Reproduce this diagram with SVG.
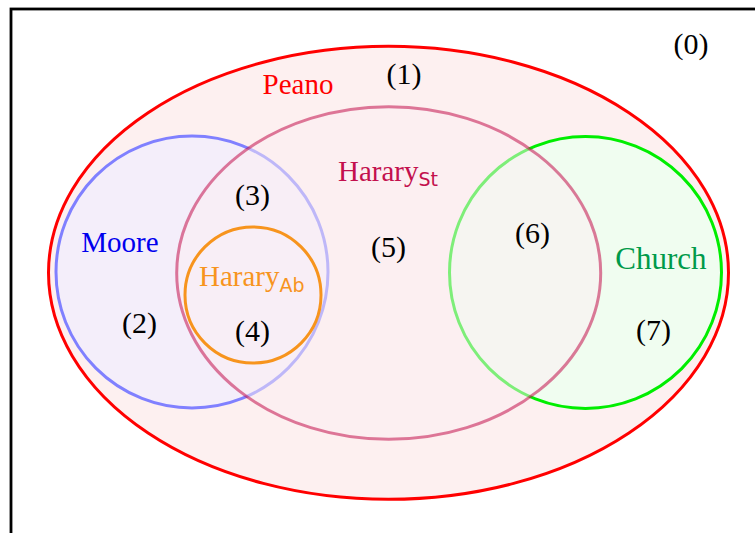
<svg xmlns="http://www.w3.org/2000/svg" width="755" height="533" viewBox="0 0 755 533">
<style>
.num{font-family:"Liberation Serif","Times New Roman",serif;font-size:30px;fill:#000;text-anchor:middle}
.lbl{font-family:"Liberation Serif","Times New Roman",serif;font-size:29px}
.big{font-size:31px}
.sub{font-family:"DejaVu Sans",sans-serif;font-size:19px}
.set{stroke-width:3}
</style>
<rect x="0" y="0" width="755" height="533" fill="#ffffff"/>
<rect id="frame" x="11" y="9" width="800" height="600" fill="#ffffff" stroke="#000000" stroke-width="2.8"/>
<g id="peano">
<ellipse class="set" cx="388.5" cy="272.8" rx="340" ry="226.5" fill="#fdf0f0" stroke="#ff0000"/>
</g>
<g id="moore">
<circle class="set" cx="192" cy="272" r="136" fill="#f4eefa" stroke="#8080ff"/>
</g>
<g id="church">
<circle class="set" cx="585.5" cy="272.5" r="136" fill="#f0fdf0" stroke="#00ee00"/>
</g>
<g id="hararySt">
<ellipse cx="388.7" cy="273" rx="212" ry="166.3" fill="#fbeef1" fill-opacity="0.5"/>
<ellipse class="set" cx="388.7" cy="273" rx="212" ry="166.3" fill="none" stroke="#c3104d" stroke-opacity="0.55"/>
</g>
<g id="hararyAb">
<circle class="set" cx="253" cy="295" r="68" fill="none" stroke="#f7941d"/>
</g>
<g id="labels">
<text class="num" x="691" y="54">(0)</text>
<text class="num" x="404" y="84">(1)</text>
<text class="lbl" x="298" y="94" fill="#ff0000" text-anchor="middle">Peano</text>
<text class="lbl" x="120" y="252" fill="#0000ee" text-anchor="middle">Moore</text>
<text class="num" x="139.5" y="333">(2)</text>
<text class="num" x="252.5" y="205">(3)</text>
<text class="num" x="252.5" y="341">(4)</text>
<text class="num" x="388.5" y="257">(5)</text>
<text class="num" x="532.5" y="243">(6)</text>
<text class="num" x="653.5" y="340">(7)</text>
<text class="lbl" x="338" y="181" fill="#c3104d">Harary<tspan class="sub" y="186">St</tspan></text>
<text class="lbl" x="199" y="286" fill="#f7941d">Harary<tspan class="sub" y="292">Ab</tspan></text>
<text class="lbl big" x="661" y="269" fill="#009a4a" text-anchor="middle">Church</text>
</g>
</svg>
